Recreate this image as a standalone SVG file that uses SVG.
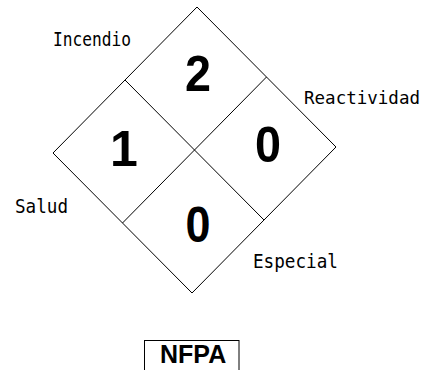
<svg xmlns="http://www.w3.org/2000/svg" width="428" height="370" viewBox="0 0 428 370">
<style>
.ln{fill:none;stroke:#000;stroke-width:1}
.lbl{font-family:"DejaVu Sans Mono","Liberation Mono",monospace;font-size:19px;fill:#000}
.num{font-family:"Liberation Sans",Arial,sans-serif;font-size:50px;font-weight:bold;fill:#000;text-anchor:middle}
.title{font-family:"Liberation Sans",Arial,sans-serif;font-size:25px;font-weight:bold;fill:#000}
</style>
<rect width="428" height="370" fill="#fff"/>
<g id="connectors">
<polygon class="ln" points="197,7 336,147 192,293 53,153"/>
<line class="ln" x1="125" y1="80" x2="264" y2="220"/>
<line class="ln" x1="266.5" y1="77" x2="122.5" y2="223"/>
</g>
<g id="incendio"><text class="num" x="198" y="91" textLength="26" lengthAdjust="spacingAndGlyphs">2</text><text class="lbl" x="53" y="46" textLength="78" lengthAdjust="spacingAndGlyphs">Incendio</text></g>
<g id="salud"><text class="num" x="124" y="166">1</text><text class="lbl" x="15" y="213" textLength="53" lengthAdjust="spacingAndGlyphs">Salud</text></g>
<g id="reactividad"><text class="num" x="268" y="162" textLength="26" lengthAdjust="spacingAndGlyphs">0</text><text class="lbl" x="304" y="104" style="font-size:17px" textLength="116" lengthAdjust="spacingAndGlyphs">Reactividad</text></g>
<g id="especial"><text class="num" x="198" y="242" textLength="25" lengthAdjust="spacingAndGlyphs">0</text><text class="lbl" x="253" y="268" textLength="85" lengthAdjust="spacingAndGlyphs">Especial</text></g>
<g id="nfpa"><rect class="ln" x="144.5" y="340.5" width="94.5" height="40"/><text class="title" x="160" y="363">NFPA</text></g>
</svg>
